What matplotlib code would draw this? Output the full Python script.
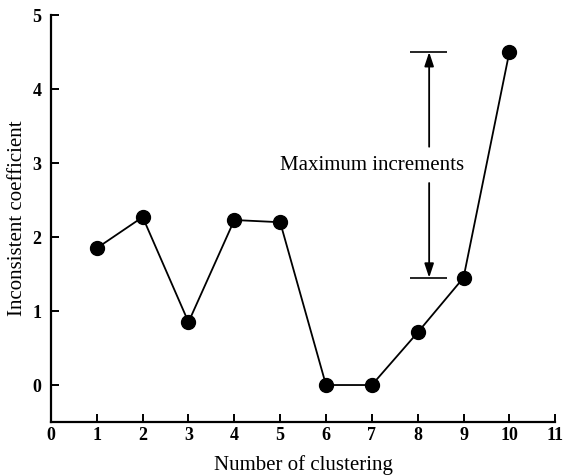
import matplotlib
matplotlib.use('Agg')
import matplotlib.pyplot as plt

plt.rcParams['font.family'] = ['Liberation Serif', 'DejaVu Serif']

clusters = [1, 2, 3, 4, 5, 6, 7, 8, 9, 10]
coef = [1.85, 2.27, 0.85, 2.23, 2.20, 0.0, 0.0, 0.71, 1.45, 4.50]

fig = plt.figure(figsize=(5.64, 4.76), dpi=100)
ax = fig.add_axes([0.0904, 0.1134, 0.894, 0.855])

ax.plot(clusters, coef, color='black', linewidth=1.3, marker='o', markersize=10)

# maximum increment annotation
x_bar = 8.25
y_hi = coef[9]
y_lo = coef[8]
ax.hlines([y_hi, y_lo], 7.84, 8.65, color='black', linewidth=1.2)
arrow = dict(arrowstyle='-|>,head_length=0.6,head_width=0.2', color='black',
             lw=1.3, mutation_scale=14, shrinkA=0, shrinkB=0)
ax.annotate('', xy=(x_bar, y_hi), xytext=(x_bar, 3.22), arrowprops=arrow)
ax.annotate('', xy=(x_bar, y_lo), xytext=(x_bar, 2.73), arrowprops=arrow)
ax.text(7.0, 2.97, 'Maximum increments', ha='center', va='center', fontsize=15)

ax.set_xlim(0, 11)
ax.set_ylim(-0.5, 5)
ax.set_xticks(range(0, 12))
ax.set_yticks(range(0, 6))
for s in ['top', 'right']:
    ax.spines[s].set_visible(False)
for s in ['left', 'bottom']:
    ax.spines[s].set_linewidth(1.6)
ax.tick_params(direction='in', length=6, width=1.4, labelsize=13)
ax.tick_params(axis='y', pad=7)
for lab in ax.get_xticklabels() + ax.get_yticklabels():
    lab.set_fontweight('bold')

ax.set_xlabel('Number of clustering', fontsize=15, labelpad=8)
ax.set_ylabel('Inconsistent coefficient', fontsize=15, labelpad=4)

fig.savefig('out.png', dpi=100)
